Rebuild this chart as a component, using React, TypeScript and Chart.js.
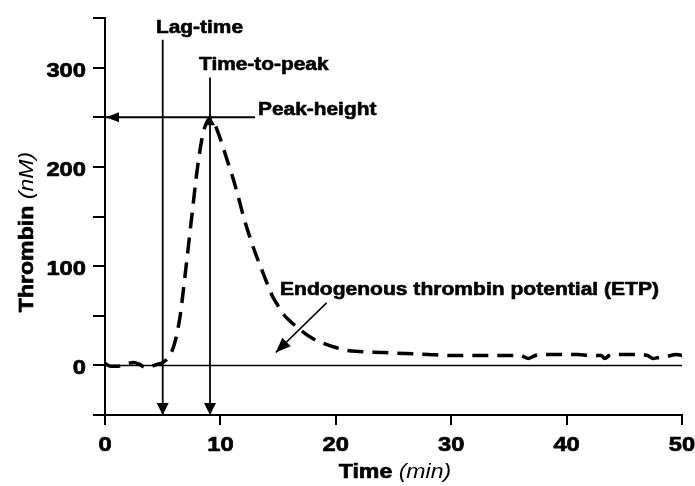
import React, { useEffect, useRef } from 'react';
import { Chart, registerables } from 'chart.js';
Chart.register(...registerables);

// ---- data ----
const timeMin = [0, 0.5, 1, 1.5, 2, 2.5, 3, 3.5, 4, 4.5, 5, 5.5, 6, 6.5, 7, 7.5, 8, 8.5, 9, 9.1, 9.5, 10, 10.5, 11, 11.5, 12, 12.5, 13, 13.5, 14, 14.5, 15, 15.5, 16, 17, 18, 19, 20, 21, 22, 24, 26, 28, 30, 32, 34, 36, 36.7, 37.3, 38, 39, 40, 41, 42, 43, 43.3, 43.7, 44, 45, 46, 47, 47.5, 48, 48.7, 49.5, 50];
const thrombinNM = [2, -1, -1, 0, 2, 3, 1, -2, -1, 1, 3, 8, 21, 49, 97, 148, 198, 234, 249, 250, 243, 228, 210, 192, 172, 150, 131, 114, 99, 84, 70, 60, 51, 45, 35, 27, 22, 18, 15, 14, 13, 12, 11, 10, 10, 10, 10, 7, 10, 11, 11, 11, 11, 10, 10, 7, 10, 11, 11, 11, 10, 7, 8, 9, 11, 10];

const xTickValues = [0, 10, 20, 30, 40, 50];
const yLabelValues = [0, 100, 200, 300];

const lagTime = 5;
const lagLineTop = 328;
const timeToPeak = 9.1;
const ttpLineTop = 290;
const peakHeight = 250;
const peakLineEnd = 13;
const axisMinY = -50;
const etpArrowFrom = [19.2, 63];
const etpArrowTo = [14.8, 13];

const labels = {
  lag: 'Lag-time',
  ttp: 'Time-to-peak',
  peak: 'Peak-height',
  etp: 'Endogenous thrombin potential (ETP)',
  xTitle: 'Time',
  xUnit: '(min)',
  yTitle: 'Thrombin',
  yUnit: '(nM)',
};

const FF = '"Liberation Sans", Arial, Helvetica, sans-serif';

function drawRich(ctx: CanvasRenderingContext2D, parts: { text: string; font: string; stroke?: number }[], x: number, y: number, align: 'left' | 'center' | 'right', sx: number, rot = 0) {
  ctx.save();
  ctx.translate(x, y);
  if (rot) ctx.rotate(rot);
  ctx.scale(sx, 1);
  ctx.textAlign = 'left';
  ctx.textBaseline = 'alphabetic';
  ctx.fillStyle = '#000';
  ctx.strokeStyle = '#000';
  ctx.lineJoin = 'round';
  let total = 0;
  const widths = parts.map((p) => {
    ctx.font = p.font;
    const w = ctx.measureText(p.text).width;
    total += w;
    return w;
  });
  let cx = align === 'center' ? -total / 2 : align === 'right' ? -total : 0;
  parts.forEach((p, i) => {
    ctx.font = p.font;
    ctx.fillText(p.text, cx, 0);
    if (p.stroke) {
      ctx.lineWidth = p.stroke;
      ctx.strokeText(p.text, cx, 0);
    }
    cx += widths[i];
  });
  ctx.restore();
}

function arrowHead(ctx: CanvasRenderingContext2D, tx: number, ty: number, dx: number, dy: number, len: number, half: number) {
  const n = Math.hypot(dx, dy);
  const ux = dx / n, uy = dy / n;
  const bx = tx - ux * len, by = ty - uy * len;
  ctx.beginPath();
  ctx.moveTo(tx, ty);
  ctx.lineTo(bx - uy * half, by + ux * half);
  ctx.lineTo(bx + uy * half, by - ux * half);
  ctx.closePath();
  ctx.fill();
}

const overlayPlugin = {
  id: 'overlay',
  afterDraw(chart: any) {
    const ctx: CanvasRenderingContext2D = chart.ctx;
    const xs = chart.scales.x;
    const ys = chart.scales.y;
    const area = chart.chartArea;
    const px = (v: number) => xs.getPixelForValue(v);
    const py = (v: number) => ys.getPixelForValue(v);
    ctx.save();
    ctx.fillStyle = '#000';
    // arrowheads
    arrowHead(ctx, px(lagTime), py(axisMinY), 0, 1, 12, 6);
    arrowHead(ctx, px(timeToPeak), py(axisMinY), 0, 1, 12, 6);
    arrowHead(ctx, px(0) + 1, py(peakHeight), -1, 0, 13, 5);
    arrowHead(ctx, px(timeToPeak), py(peakHeight) - 1, 0, -1, 9, 5);
    const ex0 = px(etpArrowFrom[0]), ey0 = py(etpArrowFrom[1]);
    const ex1 = px(etpArrowTo[0]), ey1 = py(etpArrowTo[1]);
    arrowHead(ctx, ex1, ey1, ex1 - ex0, ey1 - ey0, 15, 6);

    // tick labels
    const tickFont = `bold 21px ${FF}`;
    yLabelValues.forEach((v) => {
      drawRich(ctx, [{ text: String(v), font: tickFont, stroke: 0.7 }], area.left - 19, py(v) + 9, 'right', 1.13);
    });
    xTickValues.forEach((v) => {
      drawRich(ctx, [{ text: String(v), font: tickFont, stroke: 0.7 }], px(v), area.bottom + 36, 'center', 1.13);
    });

    // axis titles
    const tb = `bold 21px ${FF}`;
    const ti = `italic 21px ${FF}`;
    drawRich(ctx, [{ text: labels.xTitle + ' ', font: tb, stroke: 0.7 }, { text: labels.xUnit, font: ti }], 395, 478, 'center', 1.1);
    drawRich(ctx, [{ text: labels.yTitle + ' ', font: tb, stroke: 0.7 }, { text: labels.yUnit, font: ti }], 33, 232, 'center', 1.1, -Math.PI / 2);

    // annotation labels
    const af = `bold 18px ${FF}`;
    drawRich(ctx, [{ text: labels.lag, font: af, stroke: 0.6 }], 156, 33, 'left', 1.16);
    drawRich(ctx, [{ text: labels.ttp, font: af, stroke: 0.6 }], 199, 70, 'left', 1.16);
    drawRich(ctx, [{ text: labels.peak, font: af, stroke: 0.6 }], 258, 115, 'left', 1.16);
    drawRich(ctx, [{ text: labels.etp, font: af, stroke: 0.6 }], 280, 295, 'left', 1.17);
    ctx.restore();
  },
};

export default function App() {
  const ref = useRef<HTMLCanvasElement>(null);
  useEffect(() => {
    if (!ref.current) return;
    const solid = (pts: { x: number; y: number }[], w: number) => ({
      data: pts,
      borderColor: '#000',
      borderWidth: w,
      pointRadius: 0,
      fill: false,
      tension: 0,
    });
    const chart = new Chart(ref.current, {
      type: 'line',
      data: {
        datasets: [
          {
            data: timeMin.map((t, i) => ({ x: t, y: thrombinNM[i] })),
            borderColor: '#000',
            borderWidth: 3.5,
            borderDash: [16, 9],
            pointRadius: 0,
            fill: false,
            cubicInterpolationMode: 'monotone',
          } as any,
          solid([{ x: 0, y: 0 }, { x: 50, y: 0 }], 1.5),
          solid([{ x: lagTime, y: lagLineTop }, { x: lagTime, y: axisMinY }], 1.8),
          solid([{ x: timeToPeak, y: ttpLineTop }, { x: timeToPeak, y: axisMinY }], 1.8),
          solid([{ x: 0, y: peakHeight }, { x: peakLineEnd, y: peakHeight }], 1.8),
          solid([{ x: etpArrowFrom[0], y: etpArrowFrom[1] }, { x: etpArrowTo[0], y: etpArrowTo[1] }], 1.6),
        ],
      },
      options: {
        animation: false,
        responsive: true,
        maintainAspectRatio: false,
        layout: { padding: { top: 18, right: 13, left: 0, bottom: 0 } },
        plugins: { legend: { display: false }, tooltip: { enabled: false } },
        scales: {
          x: {
            type: 'linear',
            min: 0,
            max: 50,
            ticks: { stepSize: 10, display: false },
            grid: { display: true, drawOnChartArea: false, drawTicks: true, tickLength: 10, color: '#000', lineWidth: 2 },
            border: { display: true, color: '#000', width: 2 },
            afterFit: (s: any) => { s.height = 71; },
          },
          y: {
            type: 'linear',
            min: -50,
            max: 350,
            ticks: { stepSize: 50, display: false },
            grid: { display: true, drawOnChartArea: false, drawTicks: true, tickLength: 12, color: '#000', lineWidth: 2 },
            border: { display: true, color: '#000', width: 2 },
            afterFit: (s: any) => { s.width = 105; },
          },
        },
      },
      plugins: [overlayPlugin],
    });
    return () => chart.destroy();
  }, []);
  return (
    <div style={{ position: 'absolute', left: 0, top: 0, width: 695, height: 486, background: '#fff' }}>
      <canvas ref={ref} />
    </div>
  );
}
